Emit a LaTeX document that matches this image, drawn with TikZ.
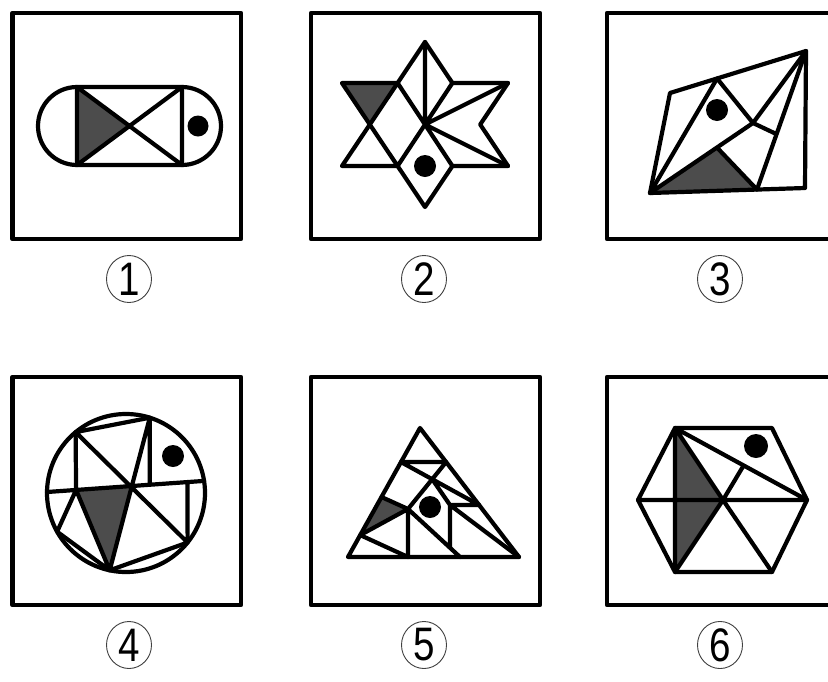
\documentclass[tikz,border=0pt]{standalone}
\usepackage{fontspec}
\setmainfont{Liberation Sans}
\usetikzlibrary{calc,shapes.geometric}
\begin{document}
\begin{tikzpicture}[x=1pt,y=-1pt,line join=round,line cap=round,
  frame/.style={line width=4.5pt},
  fig/.style={line width=4.2pt},
  shadefill/.style={fill=black!70},
  lab/.style={ellipse,draw=black!75,line width=0.9pt,minimum width=45pt,minimum height=47pt,inner sep=0pt,font=\fontsize{47}{47}\selectfont}]
\useasboundingbox (0,0) rectangle (828,681);
\fill[white] (0,0) rectangle (828,681);

% frames
\draw[frame] (12.5,13) rectangle (241,239);
\draw[frame] (311,13) rectangle (540,239);
\draw[frame] (607,13) rectangle (845,239);
\draw[frame] (12.5,377) rectangle (241,605);
\draw[frame] (311,377) rectangle (540,605);
\draw[frame] (607,377) rectangle (845,605);

% labels
\node[lab] (n1) at (129,279) {\scalebox{0.82}[1]{1}};
\node[lab] (n2) at (424,279) {\scalebox{0.82}[1]{2}};
\node[lab] (n3) at (720,279) {\scalebox{0.82}[1]{3}};
\node[lab] (n4) at (129,645) {\scalebox{0.82}[1]{4}};
\node[lab] (n5) at (424,645) {\scalebox{0.82}[1]{5}};
\node[lab] (n6) at (720,645) {\scalebox{0.82}[1]{6}};

% ---- panel 1
\coordinate (a1) at (77,87); \coordinate (b1) at (182,87);
\coordinate (c1) at (182,165); \coordinate (d1) at (77,165);
\coordinate (x1) at (129.5,126);
\fill[shadefill] (a1)--(x1)--(d1)--cycle;
\draw[fig] (a1)--(b1) arc[start angle=-90,end angle=90,radius=39] -- (d1) arc[start angle=90,end angle=270,radius=39] -- cycle;
\draw[fig] (a1)--(c1) (d1)--(b1) (a1)--(d1) (b1)--(c1);
\fill (198,126) circle[radius=10.5];

% ---- panel 2
\coordinate (t2) at (425,42); \coordinate (ult) at (397.6,83); \coordinate (urt) at (452.4,83);
\coordinate (rt2) at (508,83); \coordinate (ri2) at (480.2,124.5); \coordinate (rb2) at (508,166);
\coordinate (lrt) at (452.4,166); \coordinate (b2) at (425,207); \coordinate (llt) at (397.6,166);
\coordinate (lb2) at (342,166); \coordinate (li2) at (369.8,124.5); \coordinate (lt2) at (342,83);
\coordinate (c2) at (425,124.5);
\fill[shadefill] (lt2)--(ult)--(li2)--cycle;
\draw[fig] (t2)--(urt)--(rt2)--(ri2)--(rb2)--(lrt)--(b2)--(llt)--(lb2)--(li2)--(lt2)--(ult)--cycle;
\draw[fig] (t2)--(c2) (ult)--(lrt) (urt)--(llt) (c2)--(rt2) (c2)--(rb2)
  (ult)--(li2)--(llt);
\fill (425,166) circle[radius=11];

% ---- panel 3
\coordinate (bl3) at (650,193); \coordinate (tl3) at (670,93);
\coordinate (tr3) at (806,51); \coordinate (br3) at (805,188);
\coordinate (a3) at ($(tl3)!0.346!(tr3)$);
\coordinate (j3) at (753,123);
\coordinate (p3) at ($(bl3)!0.65!(j3)$);
\coordinate (q3) at ($(bl3)!0.69!(br3)$);
\coordinate (k3) at ($(tr3)!0.6!(q3)$);
\fill[shadefill] (bl3)--(p3)--(q3)--cycle;
\draw[fig] (bl3)--(tl3)--(tr3)--(br3)--cycle;
\draw[fig] (bl3)--(a3)--(j3)--(k3) (bl3)--(j3)--(tr3) (tr3)--(q3) (p3)--(q3);
\fill (717,110) circle[radius=11];

% ---- panel 4
\coordinate (o4) at (126,493);
\coordinate (t41) at (75.6,432.1); \coordinate (t42) at (149.8,417.7);
\coordinate (cl4) at (47,492); \coordinate (cr4) at (204.1,480.9);
\coordinate (r41) at (187.6,542.5); \coordinate (b4) at (109.7,570.3);
\coordinate (l41) at (57.1,531.7);
\coordinate (k4) at (intersection of t41--r41 and cl4--cr4);
\coordinate (v41) at (intersection of t41--{(77,600)} and cl4--cr4);
\coordinate (v42) at (intersection of t42--{(149.8,600)} and cl4--cr4);
\coordinate (v43) at (intersection of r41--{(187.6,400)} and cl4--cr4);
\fill[shadefill] (v41)--(k4)--(b4)--cycle;
\draw[fig] (o4) circle[radius=79];
\draw[fig] (cl4)--(cr4) (t41)--(t42) (t41)--(v41) (t42)--(v42) (v43)--(r41)
  (t41)--(r41) (t42)--(b4) (v41)--(b4) (v41)--(l41)--(b4)--(r41);
\fill (173,456) circle[radius=11];

% ---- panel 5
\coordinate (t5) at (420,428); \coordinate (bl5) at (348,557); \coordinate (br5) at (519,557);
\coordinate (h51) at ($(t5)!0.264!(bl5)$); \coordinate (h52) at ($(t5)!0.264!(br5)$);
\coordinate (lt5) at ($(t5)!0.535!(bl5)$); \coordinate (lb5) at ($(t5)!0.83!(bl5)$);
\coordinate (s5) at (408,509); \coordinate (f5) at (408,557);
\coordinate (re5) at ($(t5)!0.597!(br5)$);
\coordinate (x5) at (intersection of h51--re5 and h52--s5);
\coordinate (m5) at (450,505);
\coordinate (g5) at (460,557);
\coordinate (w5) at (intersection of m5--{(450,600)} and s5--g5);
\fill[shadefill] (lt5)--(s5)--(lb5)--cycle;
\draw[fig] (t5)--(bl5)--(br5)--cycle;
\draw[fig] (h51)--(h52) (h51)--(re5) (h52)--(s5) (x5)--(m5)--(br5) (m5)--(re5) (m5)--(w5)
  (s5)--(g5) (s5)--(f5) (lt5)--(s5)--(lb5) (lb5)--(f5);
\fill (430,507) circle[radius=11];

% ---- panel 6
\coordinate (tl6) at (675,428); \coordinate (tr6) at (772,428); \coordinate (r6) at (807,500);
\coordinate (br6) at (772,572); \coordinate (bl6) at (675,572); \coordinate (l6) at (638,500);
\coordinate (c6) at (723,500);
\coordinate (d6) at ($(tl6)!0.52!(r6)$);
\fill[shadefill] (tl6)--(c6)--(bl6)--cycle;
\draw[fig] (tl6)--(tr6)--(r6)--(br6)--(bl6)--(l6)--cycle;
\draw[fig] (l6)--(r6) (tl6)--(bl6) (tl6)--(c6)--(bl6) (tl6)--(r6) (c6)--(d6) (c6)--(br6);
\fill (756,446) circle[radius=12];
\end{tikzpicture}
\end{document}
